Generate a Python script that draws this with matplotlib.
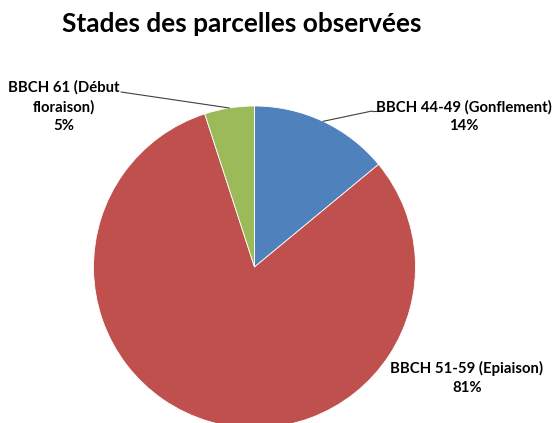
import numpy as np
import matplotlib
matplotlib.use('Agg')
import matplotlib.pyplot as plt

plt.rcParams['font.family'] = ['Lato', 'DejaVu Sans']

title = 'Stades des parcelles observées'
stages = ['BBCH 44-49 (Gonflement)', 'BBCH 51-59 (Epiaison)', 'BBCH 61 (Début\nfloraison)']
shares = [14, 81, 5]
colors = ['#4F81BD', '#C0504D', '#9BBB59']

W, H = 552, 423
# pie centre and radius in pixels (from top-left)
cx, cy, r = 254.5, 267, 161

fig = plt.figure(figsize=(W / 100, H / 100), dpi=100)
ax = fig.add_axes([0, 0, 1, 1])

wedges, _ = ax.pie(shares, colors=colors, startangle=90, counterclock=False,
                   wedgeprops=dict(edgecolor='white', linewidth=0.6))
ax.set_xlim(-cx / r, (W - cx) / r)
ax.set_ylim(-(H - cy) / r, cy / r)
ax.axis('off')


def px(x, y):
    # pixel position -> data coords of the pie axes
    return (x - cx) / r, (cy - y) / r


def mid_edge(w):
    a = np.deg2rad((w.theta1 + w.theta2) / 2)
    return np.cos(a), np.sin(a)


fig.text(242 / W, 1 - 32 / H, title, ha='center', va='baseline',
         fontsize=18.9, fontweight='bold')

lab_kw = dict(fontsize=10.7, fontweight='bold', ha='center', va='top',
              multialignment='center', linespacing=1.45)
labels = [f'{s}\n{v}%' for s, v in zip(stages, shares)]

# blue label with leader
ax.text(*px(464, 100), labels[0], **lab_kw)
ax.annotate('', xy=mid_edge(wedges[0]), xytext=px(372, 111),
            arrowprops=dict(arrowstyle='-', color='#404040', lw=0.8,
                            shrinkA=0, shrinkB=0))
ax.plot(*zip(px(372, 111), px(377, 111)), color='#404040', lw=0.8)

# red label, no leader
ax.text(*px(467, 361), labels[1], **lab_kw)

# green label with leader
ax.text(*px(64, 80), labels[2], **lab_kw)
ax.annotate('', xy=mid_edge(wedges[2]), xytext=px(121, 92),
            arrowprops=dict(arrowstyle='-', color='#404040', lw=0.8,
                            shrinkA=0, shrinkB=0))

fig.savefig('out.png', dpi=100)
